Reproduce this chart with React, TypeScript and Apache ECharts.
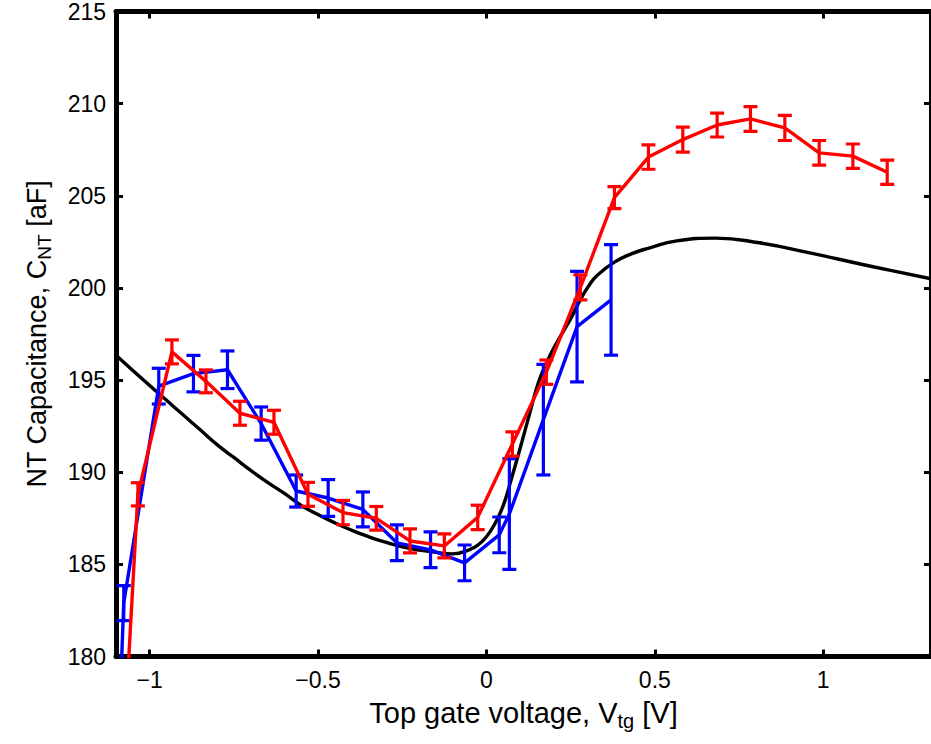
import React, { useEffect, useRef } from "react";
import * as echarts from "echarts";

// ---- data ----
const theoryX = [-1.1, -1.0, -0.95, -0.9, -0.85, -0.8, -0.75, -0.7, -0.65, -0.6, -0.55, -0.5, -0.45, -0.4, -0.35, -0.3, -0.25, -0.2, -0.15, -0.1, -0.05, -0.025, 0.0, 0.025, 0.05, 0.075, 0.1, 0.13, 0.155, 0.18, 0.205, 0.23, 0.255, 0.28, 0.305, 0.33, 0.38, 0.43, 0.48, 0.565, 0.68, 0.81, 0.96, 1.11, 1.2, 1.32];
const theoryY = [196.35, 194.7, 193.9, 193.1, 192.3, 191.5, 190.8, 190.1, 189.45, 188.85, 188.2, 187.7, 187.25, 186.85, 186.5, 186.2, 185.95, 185.78, 185.65, 185.57, 185.8, 186.05, 186.5, 187.2, 188.2, 189.7, 191.3, 193.3, 194.9, 196.0, 196.9, 197.7, 198.5, 199.4, 200.15, 200.7, 201.4, 201.85, 202.15, 202.55, 202.7, 202.45, 201.9, 201.3, 200.95, 200.5];

const blueX = [-1.086, -1.077, -0.973, -0.87, -0.769, -0.669, -0.565, -0.47, -0.367, -0.266, -0.166, -0.065, 0.038, 0.068, 0.169, 0.269, 0.37];
const blueY = [178.5, 182.9, 194.67, 195.35, 195.56, 192.64, 188.98, 188.6, 187.98, 186.17, 185.79, 185.08, 186.6, 187.73, 192.85, 197.9, 199.35];
const blueErr = [1.0, 0.95, 0.97, 0.99, 1.02, 0.9, 0.87, 1.0, 0.95, 0.97, 0.97, 0.97, 0.97, 3.0, 3.0, 3.0, 3.0];

const redX = [-1.068, -1.035, -0.934, -0.833, -0.732, -0.631, -0.53, -0.426, -0.327, -0.227, -0.125, -0.026, 0.077, 0.178, 0.279, 0.38, 0.481, 0.583, 0.685, 0.784, 0.886, 0.988, 1.088, 1.19];
const redY = [178.0, 188.8, 196.53, 194.93, 193.2, 192.71, 188.8, 187.81, 187.5, 186.27, 186.0, 187.55, 191.53, 195.43, 200.03, 204.9, 207.1, 208.05, 208.84, 209.17, 208.68, 207.33, 207.15, 206.28];
const redErr = [0.65, 0.63, 0.65, 0.62, 0.65, 0.65, 0.65, 0.66, 0.64, 0.65, 0.65, 0.66, 0.66, 0.66, 0.68, 0.6, 0.66, 0.68, 0.65, 0.67, 0.68, 0.67, 0.66, 0.66];

const xTicks = [-1, -0.5, 0, 0.5, 1];

const fmtX = (v: number) => (v < 0 ? "\u2212" + String(Math.abs(v)) : String(v));

function errorSeries(xs: number[], ys: number[], es: number[], color: string, z: number) {
  return {
    type: "custom",
    clip: true,
    z,
    silent: true,
    data: xs.map((x, i) => [x, ys[i] - es[i], ys[i] + es[i]]),
    encode: { x: 0, y: [1, 2] },
    renderItem: (params: any, api: any) => {
      const x = api.value(0);
      const p1 = api.coord([x, api.value(1)]);
      const p2 = api.coord([x, api.value(2)]);
      const hw = 7;
      const style = { stroke: color, lineWidth: 3.2, fill: null };
      return {
        type: "group",
        children: [
          { type: "line", shape: { x1: p1[0], y1: p1[1], x2: p2[0], y2: p2[1] }, style },
          { type: "line", shape: { x1: p1[0] - hw, y1: p1[1], x2: p1[0] + hw, y2: p1[1] }, style },
          { type: "line", shape: { x1: p2[0] - hw, y1: p2[1], x2: p2[0] + hw, y2: p2[1] }, style },
        ],
      };
    },
  };
}

function lineSeries(xs: number[], ys: number[], color: string, z: number, smooth: boolean) {
  return {
    type: "line",
    data: xs.map((x, i) => [x, ys[i]]),
    showSymbol: false,
    symbol: "none",
    smooth,
    clip: true,
    z,
    lineStyle: { color, width: 3.4 },
    silent: true,
  };
}

const FONT = "'Liberation Sans', Arial, Helvetica, sans-serif";

export default function App() {
  const ref = useRef<HTMLDivElement>(null);
  useEffect(() => {
    const chart = echarts.init(ref.current!, null, { renderer: "svg" });
    const axisLine = { show: true, onZero: false, lineStyle: { color: "#000", width: 5 } };
    const tickStyle = { show: true, inside: true, length: 7, lineStyle: { color: "#000", width: 3 } };
    chart.setOption({
      animation: false,
      backgroundColor: "#fff",
      textStyle: { fontFamily: FONT },
      grid: { left: 116, top: 10, width: 817.5, height: 646.5, containLabel: false },
      xAxis: [
        {
          type: "value",
          min: -1.1,
          max: 1.32,
          position: "bottom",
          axisLine,
          axisTick: { ...tickStyle, customValues: xTicks },
          axisLabel: {
            customValues: xTicks,
            formatter: fmtX,
            color: "#000",
            fontSize: 23,
            fontFamily: FONT,
            margin: 12,
          },
          splitLine: { show: false },
          name: "Top gate voltage, V{sub|tg} [V]",
          nameLocation: "middle",
          nameGap: 38,
          nameTextStyle: {
            color: "#000",
            fontSize: 29,
            fontFamily: FONT,
            rich: { sub: { fontSize: 20, fontFamily: FONT, color: "#000", padding: [16, 0, 0, 0] } },
          },
        },
        {
          type: "value",
          min: -1.1,
          max: 1.32,
          position: "top",
          axisLine,
          axisTick: { ...tickStyle, customValues: xTicks },
          axisLabel: { show: false },
          splitLine: { show: false },
        },
      ],
      yAxis: [
        {
          type: "value",
          min: 180,
          max: 215,
          interval: 5,
          position: "left",
          axisLine,
          axisTick: tickStyle,
          axisLabel: { color: "#000", fontSize: 23, fontFamily: FONT, margin: 10 },
          splitLine: { show: false },
          name: "NT Capacitance, C{sub|NT} [aF]",
          nameLocation: "middle",
          nameGap: 62,
          nameRotate: 90,
          nameTextStyle: {
            color: "#000",
            fontSize: 27,
            fontFamily: FONT,
            rich: { sub: { fontSize: 19, fontFamily: FONT, color: "#000", padding: [15, 0, 0, 0] } },
          },
        },
        {
          type: "value",
          min: 180,
          max: 215,
          interval: 5,
          position: "right",
          axisLine,
          axisTick: tickStyle,
          axisLabel: { show: false },
          splitLine: { show: false },
        },
      ],
      series: [
        lineSeries(theoryX, theoryY, "#000000", 2, true),
        lineSeries(blueX, blueY, "#0000ff", 3, false),
        errorSeries(blueX, blueY, blueErr, "#0000ff", 3),
        lineSeries(redX, redY, "#ff0000", 4, false),
        errorSeries(redX, redY, redErr, "#ff0000", 4),
      ],
    });
    return () => chart.dispose();
  }, []);
  return (
    <div
      ref={ref}
      style={{ position: "fixed", left: 0, top: 0, width: 931, height: 744, background: "#fff" }}
    />
  );
}
